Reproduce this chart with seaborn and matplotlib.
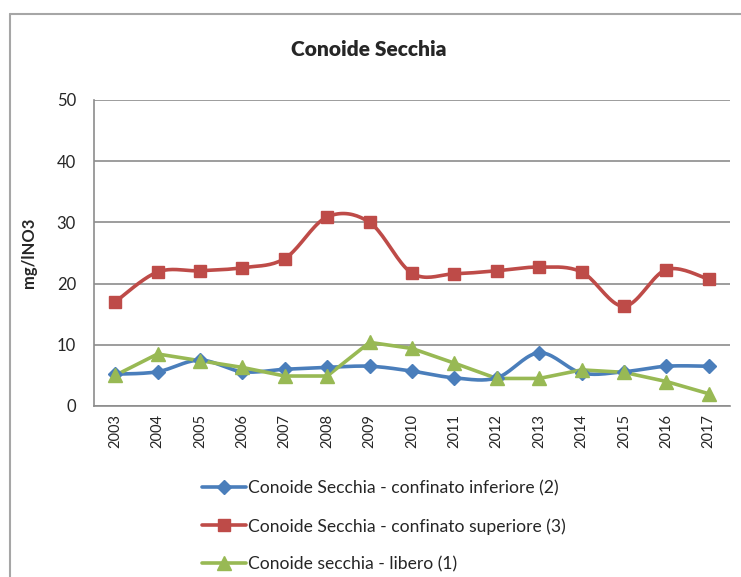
import numpy as np
import pandas as pd
import matplotlib
matplotlib.use("Agg")
import matplotlib.pyplot as plt
from matplotlib.lines import Line2D
import seaborn as sns

anni = [str(a) for a in range(2003, 2018)]
inferiore = [5.2, 5.6, 7.5, 5.6, 6.0, 6.3, 6.5, 5.7, 4.6, 4.6, 8.7, 5.4, 5.6, 6.5, 6.5]
superiore = [17.0, 21.9, 22.1, 22.6, 24.1, 30.9, 30.0, 21.7, 21.6, 22.1, 22.7, 21.9, 16.3, 22.3, 20.7]
libero = [5.0, 8.5, 7.4, 6.3, 4.9, 4.9, 10.4, 9.4, 7.0, 4.5, 4.5, 5.9, 5.5, 4.0, 2.0]

nomi = ["Conoide Secchia - confinato inferiore (2)",
        "Conoide Secchia - confinato superiore (3)",
        "Conoide secchia - libero (1)"]
colori = ["#4A7EBB", "#BE4B48", "#98B954"]
marker = ["D", "s", "^"]
msize = [7, 8.5, 9.5]
smussato = [True, True, False]


def catmull_rom(x, y, n=20):
    # curva "smussata" tipo Excel
    x = np.asarray(x, float)
    y = np.asarray(y, float)
    px = np.concatenate([[x[0]], x, [x[-1]]])
    py = np.concatenate([[y[0]], y, [y[-1]]])
    xs, ys = [], []
    t = np.linspace(0, 1, n, endpoint=False)
    for i in range(1, len(px) - 2):
        p0, p1, p2, p3 = py[i - 1], py[i], py[i + 1], py[i + 2]
        q0, q1, q2, q3 = px[i - 1], px[i], px[i + 1], px[i + 2]
        b1x, b1y = q1 + (q2 - q0) / 6, p1 + (p2 - p0) / 6
        b2x, b2y = q2 - (q3 - q1) / 6, p2 - (p3 - p1) / 6
        xs.append((1 - t) ** 3 * q1 + 3 * (1 - t) ** 2 * t * b1x + 3 * (1 - t) * t ** 2 * b2x + t ** 3 * q2)
        ys.append((1 - t) ** 3 * p1 + 3 * (1 - t) ** 2 * t * b1y + 3 * (1 - t) * t ** 2 * b2y + t ** 3 * p2)
    xs.append([x[-1]])
    ys.append([y[-1]])
    return np.concatenate(xs), np.concatenate(ys)


sns.set_style("white")
plt.rcParams['font.family'] = ['Lato', 'DejaVu Sans']

fig = plt.figure(figsize=(7.41, 5.77), dpi=100)
ax = fig.add_axes([94 / 741, 1 - 406 / 577, (730 - 94) / 741, (406 - 100) / 577])

pos = np.arange(len(anni))
maniglie = []
for serie, nome, col, mk, ms, sm in zip([inferiore, superiore, libero], nomi, colori, marker, msize, smussato):
    if sm:
        xs, ys = catmull_rom(pos, serie)
    else:
        xs, ys = pos, np.asarray(serie)
    sns.lineplot(x=xs, y=ys, ax=ax, color=col, linewidth=2.6, sort=False, estimator=None, zorder=3)
    ax.plot(pos, serie, linestyle="none", marker=mk, markersize=ms, color=col,
            markeredgecolor=col, zorder=4)
    maniglie.append(Line2D([0], [0], color=col, linewidth=2.6, marker=mk, markersize=ms, label=nome))

ax.set_xlim(-0.5, len(anni) - 0.5)
ax.set_ylim(0, 50)
ax.set_yticks(range(0, 51, 10))
ax.set_xticks(pos)
ax.set_xticklabels(anni, rotation=90, fontsize=10.5)
ax.set_xticks(np.arange(-0.5, len(anni)), minor=True)
ax.tick_params(axis="x", which="major", length=0, pad=6)
ax.tick_params(axis="x", which="minor", length=5, color="#8c8c8c", direction="out")
ax.tick_params(axis="y", length=5, color="#8c8c8c", direction="out", labelsize=12, pad=8)
ax.grid(axis="y", color="#8c8c8c", linewidth=1.2)
ax.set_axisbelow(True)
for s in ["top", "right"]:
    ax.spines[s].set_visible(False)
for s in ["left", "bottom"]:
    ax.spines[s].set_color("#8c8c8c")
    ax.spines[s].set_linewidth(1.2)

ax.set_ylabel("mg/lNO3", fontsize=12, fontweight="bold", labelpad=14)
fig.text(369 / 741, 1 - 50 / 577, "Conoide Secchia", ha="center", va="center",
         fontsize=15, fontweight="heavy")

fig.legend(handles=maniglie, loc="upper left", bbox_to_anchor=(195 / 741, 1 - 473 / 577),
           frameon=False, fontsize=12.6, handlelength=2.5, handletextpad=0.1,
           labelspacing=1.25, borderaxespad=0)

# cornice del grafico
fig.add_artist(Line2D([10 / 741, 10 / 741], [0, 1 - 14 / 577], color="#a6a6a6", linewidth=1.5))
fig.add_artist(Line2D([10 / 741, 1], [1 - 14 / 577, 1 - 14 / 577], color="#a6a6a6", linewidth=1.5))

fig.savefig("out.png", dpi=100)
